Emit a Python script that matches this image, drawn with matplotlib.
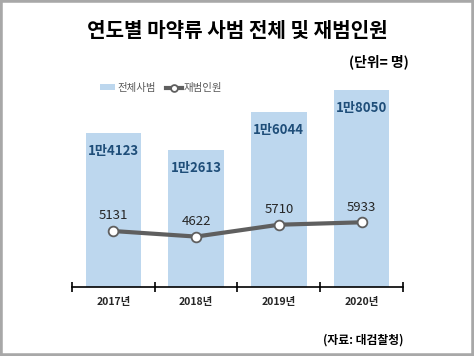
import matplotlib.pyplot as plt
from matplotlib.patches import Rectangle

plt.rcParams['font.family'] = ['Noto Sans CJK KR', 'DejaVu Sans']

# 데이터
years = ["2017년", "2018년", "2019년", "2020년"]
total = [14123, 12613, 16044, 18050]
total_labels = ["1만4123", "1만2613", "1만6044", "1만8050"]
repeat = [5131, 4622, 5710, 5933]

fig = plt.figure(figsize=(4.74, 3.56), dpi=100)
ax = fig.add_axes([0.152, 0.194, 0.698, 0.612])

x = list(range(len(years)))
bars = ax.bar(x, total, width=0.67, color="#BDD7EE", label="전체사범", zorder=1)
line, = ax.plot(x, repeat, color="#5f5f5f", lw=3, marker="o", ms=7,
                mfc="white", mec="#5f5f5f", mew=1.3, label="재범인원", zorder=3)

# 막대 라벨
for xi, v, s in zip(x, total, total_labels):
    ax.annotate(s, (xi, v), xytext=(0, -13), textcoords="offset points",
                ha="center", va="center", fontsize=9.5, fontweight="bold",
                color="#1F4E79")
# 선 라벨
for xi, v in zip(x, repeat):
    ax.annotate(str(v), (xi, v), xytext=(0, 11), textcoords="offset points",
                ha="center", va="center", fontsize=9.5, fontweight="medium",
                color="#262626")

ax.set_xlim(-0.5, 3.5)
ax.set_ylim(0, 20000)
for s in ["top", "right", "left"]:
    ax.spines[s].set_visible(False)
ax.spines["bottom"].set_color("black")
ax.spines["bottom"].set_linewidth(1.2)
ax.set_yticks([])
ax.set_xticks([-0.5, 0.5, 1.5, 2.5, 3.5])
ax.set_xticklabels([])
ax.tick_params(axis="x", direction="inout", length=7, width=1.2)
for xi, y in zip(x, years):
    ax.text(xi, -1400, y, ha="center", va="center", fontsize=7.5,
            fontweight="bold", color="#262626")

leg = ax.legend([bars, line], ["전체사범", "재범인원"], loc="center left",
                bbox_to_anchor=(0.055, 0.913), ncol=2, frameon=False,
                fontsize=7.5, labelcolor="#595959", handlelength=1.5,
                handleheight=0.5, handletextpad=0.2, columnspacing=1.0,
                markerscale=0.7)

fig.text(0.5, 0.915, "연도별 마약류 사범 전체 및 재범인원", ha="center",
         va="center", fontsize=14.5, fontweight="bold")
fig.text(0.862, 0.826, "(단위= 명)", ha="right", va="center",
         fontsize=10, fontweight="bold")
fig.text(0.852, 0.045, "(자료: 대검찰청)", ha="right", va="center",
         fontsize=8.5, fontweight="bold")

fig.patches.append(Rectangle((0, 0), 1, 1, transform=fig.transFigure,
                             fill=False, edgecolor="#a8a8a8", lw=4))

plt.savefig("out.png", dpi=100)
